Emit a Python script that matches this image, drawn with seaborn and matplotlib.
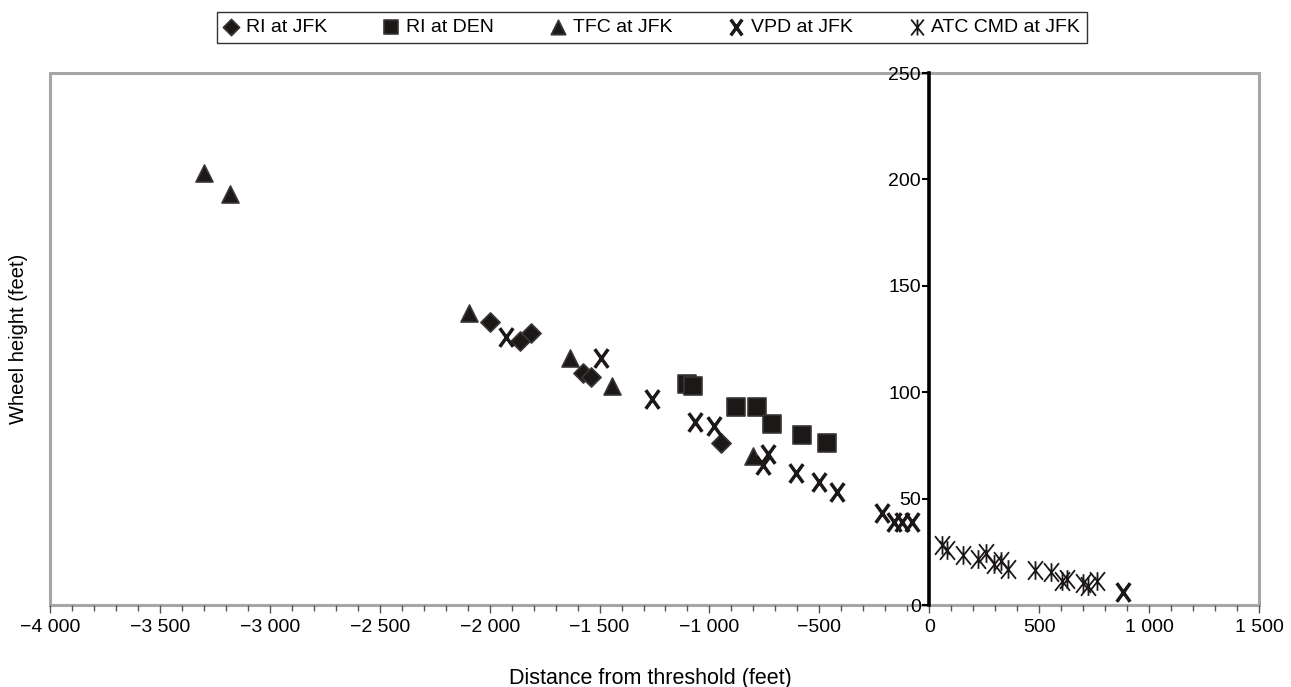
import matplotlib
matplotlib.use("Agg")
import matplotlib.pyplot as plt
from matplotlib.path import Path
from matplotlib.patches import Rectangle
from matplotlib.ticker import MultipleLocator, FuncFormatter
import seaborn as sns

# Wheel height vs. distance from runway threshold, by data source
ri_jfk_x = [-2000, -1863, -1813, -1576, -1540, -949]
ri_jfk_y = [133, 124, 128, 109, 107, 76]

ri_den_x = [-1103, -1075, -880, -785, -717, -580, -466]
ri_den_y = [104, 103, 93, 93, 85, 80, 76]

tfc_jfk_x = [-3300, -3180, -2095, -1635, -1444, -800]
tfc_jfk_y = [203, 193, 137, 116, 103, 70]

vpd_jfk_x = [-1927, -1494, -1262, -1067, -981, -758, -735, -607, -503, -421,
             -216, -160, -125, -80, 880]
vpd_jfk_y = [126, 116, 97, 86, 84, 66, 71, 62, 58, 53, 43, 39, 39, 39, 6]

atc_jfk_x = [57, 79, 153, 222, 257, 293, 325, 357, 480, 553, 603, 625, 698,
             721, 762]
atc_jfk_y = [28, 26, 23.5, 21.5, 24.5, 19.5, 20.5, 17, 16.5, 15.5, 11.5, 12,
             10.5, 9, 11.5]

series_labels = ["RI at JFK", "RI at DEN", "TFC at JFK", "VPD at JFK",
                 "ATC CMD at JFK"]

sns.set_theme(style="white")
plt.rcParams["font.family"] = ["Liberation Sans", "DejaVu Sans"]

M, L = Path.MOVETO, Path.LINETO
x_mark = Path([(-0.72, -1), (0.72, 1), (-0.72, 1), (0.72, -1)], [M, L, M, L])
star_mark = Path([(-0.8, -1), (0.8, 1), (-0.8, 1), (0.8, -1), (0, -1), (0, 1)],
                 [M, L, M, L, M, L])

ink = "#1c1818"
edge = "#3a3636"

fig = plt.figure(figsize=(12.91, 6.87), dpi=100)
ax = fig.add_axes([50 / 1291, 82 / 687, 1209 / 1291, 532 / 687])

sns.scatterplot(x=ri_jfk_x, y=ri_jfk_y, marker="D", s=95, color=ink,
                edgecolor=edge, linewidth=1.2, ax=ax, label=series_labels[0])
sns.scatterplot(x=ri_den_x, y=ri_den_y, marker="s", s=160, color=ink,
                edgecolor=edge, linewidth=1.2, ax=ax, label=series_labels[1])
sns.scatterplot(x=tfc_jfk_x, y=tfc_jfk_y, marker="^", s=150, color=ink,
                edgecolor=edge, linewidth=1.2, ax=ax, label=series_labels[2])
sns.scatterplot(x=vpd_jfk_x, y=vpd_jfk_y, marker=x_mark, s=180, color=ink,
                edgecolor=ink, linewidth=2.5, ax=ax, label=series_labels[3])
sns.scatterplot(x=atc_jfk_x, y=atc_jfk_y, marker=star_mark, s=180, color=ink,
                edgecolor=ink, linewidth=1.3, ax=ax, label=series_labels[4])

ax.set_xlim(-4000, 1500)
ax.set_ylim(0, 250)

# Gray frame around the plotting area; y axis drawn through x = 0
for side in ("top", "right", "bottom"):
    ax.spines[side].set_visible(False)
ax.spines["left"].set_position(("data", 0))
ax.spines["left"].set_color("black")
ax.spines["left"].set_linewidth(2.6)
ax.spines["left"].set_zorder(1)
ax.add_patch(Rectangle((0, 0), 1, 1, transform=ax.transAxes, fill=False,
                       edgecolor="#a6a6a6", linewidth=2.2, clip_on=False,
                       zorder=0.5))

ax.xaxis.set_major_locator(MultipleLocator(500))
ax.xaxis.set_minor_locator(MultipleLocator(100))
ax.yaxis.set_major_locator(MultipleLocator(50))


def thousands(v, pos):
    s = f"{abs(v):,.0f}".replace(",", " ")
    return ("\u2212" + s) if v < 0 else s


ax.xaxis.set_major_formatter(FuncFormatter(thousands))
ax.tick_params(axis="x", which="major", direction="out", length=6, width=1,
               color="#555555", labelsize=14, pad=4, bottom=True,
               labelcolor="black")
ax.tick_params(axis="x", which="minor", direction="out", length=4, width=1,
               color="#555555", bottom=True)
ax.tick_params(axis="y", which="major", direction="out", length=5, width=1.5,
               color="black", labelsize=14, pad=1, left=True,
               labelcolor="black")

ax.set_xlabel("Distance from threshold (feet)", fontsize=15.5, color="black")
ax.xaxis.set_label_coords(0.497, -0.118)
ax.xaxis.label.set_va("top")
ax.set_ylabel("Wheel height (feet)", fontsize=14.5, color="black")
ax.yaxis.set_label_coords(-0.0185, 0.5)

handles, labels = ax.get_legend_handles_labels()
ax.legend_.remove()
leg = fig.legend(handles, labels, loc="center", ncol=5,
                 bbox_to_anchor=(652 / 1291, 1 - 27.5 / 687),
                 frameon=True, fancybox=False, edgecolor="black",
                 fontsize=14, handlelength=0.8, handletextpad=0.35,
                 columnspacing=2.9, borderpad=0.35, markerscale=0.85)
leg.get_frame().set_linewidth(1.0)
for t in leg.get_texts():
    t.set_color("black")

fig.savefig("out.png", dpi=100, facecolor="white")
